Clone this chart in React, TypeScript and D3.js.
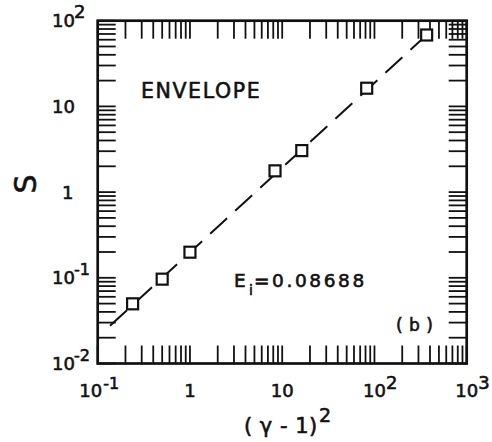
import React from "react";
import * as d3 from "d3";

// Data
const gammaSq = [0.239, 0.5, 1.0, 8.36, 16.3, 82.4, 368];
const sValues = [0.0497, 0.0964, 0.199, 1.77, 3.05, 16.3, 68.1];
const fitX = [0.136, 368];
const fitS = [0.0275, 68.1];

const xTickValues = [0.1, 1, 10, 100, 1000];
const xTickBase = ["10", "1", "10", "10", "10"];
const xTickExp = ["-1", "", "", "2", "3"];
const yTickValues = [0.01, 0.1, 1, 10, 100];
const yTickBase = ["10", "10", "1", "10", "10"];
const yTickExp = ["-2", "-1", "", "", "2"];

const W = 492;
const H = 442;
const L = 97.7, R = 466.7, T = 20.7, B = 363.5;
const FONT = "'DejaVu Sans', sans-serif";

function minorTicks(lo: number, hi: number): number[] {
  const out: number[] = [];
  for (let e = Math.log10(lo); e < Math.log10(hi); e++) {
    for (let m = 1; m <= 9; m++) out.push(m * Math.pow(10, e));
  }
  out.push(hi);
  return out;
}

export default function App() {
  const x = d3.scaleLog().domain([0.1, 1000]).range([L, R]);
  const y = d3.scaleLog().domain([0.01, 100]).range([B, T]);
  const tl = 18;
  const xt = minorTicks(0.1, 1000);
  const yt = minorTicks(0.01, 100);
  const line = d3
    .line<number>()
    .x((_, i) => x(fitX[i]))
    .y((_, i) => y(fitS[i]));
  const sq = 11;
  const ts = { stroke: "#111", strokeWidth: 0.6 };

  return (
    <svg
      width={W}
      height={H}
      style={{ position: "absolute", left: 0, top: 0, background: "#fff" }}
      fontFamily={FONT}
    >
      <rect x={0} y={0} width={W} height={H} fill="#fff" />
      {/* ticks */}
      <g stroke="#111" strokeWidth={1.8}>
        {xt.map((v, i) => (
          <g key={"xt" + i}>
            <line x1={x(v)} x2={x(v)} y1={B} y2={B - tl} />
            <line x1={x(v)} x2={x(v)} y1={T} y2={T + tl} />
          </g>
        ))}
        {yt.map((v, i) => (
          <g key={"yt" + i}>
            <line x1={L} x2={L + tl} y1={y(v)} y2={y(v)} />
            <line x1={R} x2={R - tl} y1={y(v)} y2={y(v)} />
          </g>
        ))}
      </g>
      <rect x={L} y={T} width={R - L} height={B - T} fill="none" stroke="#111" strokeWidth={2.7} />

      {/* fit line */}
      <path
        d={line(fitX) || ""}
        fill="none"
        stroke="#111"
        strokeWidth={2}
        strokeDasharray="23 11"
      />
      {/* squares */}
      {gammaSq.map((g, i) => (
        <rect
          key={"p" + i}
          x={x(g) - sq / 2}
          y={y(sValues[i]) - sq / 2}
          width={sq}
          height={sq}
          fill="#fff"
          stroke="#111"
          strokeWidth={2.2}
        />
      ))}

      {/* x tick labels */}
      <g fontSize={18} fill="#111" {...ts}>
        {xTickValues.map((v, i) => {
          const neg = xTickExp[i].startsWith("-");
          const cx = x(v) + (neg ? -7 : 0);
          return (
            <g key={"xl" + i}>
              <text x={cx} y={397} textAnchor="middle">
                {xTickBase[i]}
              </text>
              {xTickExp[i] && (
                <text x={cx + 11.5 + (neg ? 1 : 0)} y={389} fontSize={neg ? 16 : 18}>
                  {xTickExp[i]}
                </text>
              )}
            </g>
          );
        })}
      </g>

      {/* y tick labels */}
      <g fontSize={18} fill="#111" {...ts}>
        {yTickValues.map((v, i) => {
          const by = y(v) + 6.5;
          const single = yTickBase[i] === "1";
          return (
            <g key={"yl" + i}>
              <text x={single ? 62 : 52} y={by}>
                {yTickBase[i]}
              </text>
              {yTickExp[i] && (
                <text x={74} y={by - 9} fontSize={yTickExp[i].startsWith("-") ? 16 : 18}>
                  {yTickExp[i]}
                </text>
              )}
            </g>
          );
        })}
      </g>

      {/* axis titles */}
      <text
        x={0}
        y={0}
        transform="translate(36,184) rotate(-90)"
        textAnchor="middle"
        fontSize={30}
        fill="#111"
        {...ts}
      >
        S
      </text>
      <g fill="#111" fontSize={21} {...ts}>
        <text x={244} y={433} letterSpacing={0.5}>
          ( γ - 1)
        </text>
        <text x={319} y={422} fontSize={19}>
          2
        </text>
      </g>

      {/* annotations */}
      <text x={141} y={98} fontSize={20.5} letterSpacing={1.6} fill="#111" {...ts}>
        ENVELOPE
      </text>
      <g fill="#111" fontSize={18.5} {...ts}>
        <text x={234} y={287}>E</text>
        <text x={249} y={295} fontSize={14}>i</text>
        <text x={254} y={287} letterSpacing={2.6}>=0.08688</text>
      </g>
      <text x={396} y={331} fontSize={17} fill="#111" letterSpacing={0.5} {...ts}>
        ( b )
      </text>
    </svg>
  );
}
